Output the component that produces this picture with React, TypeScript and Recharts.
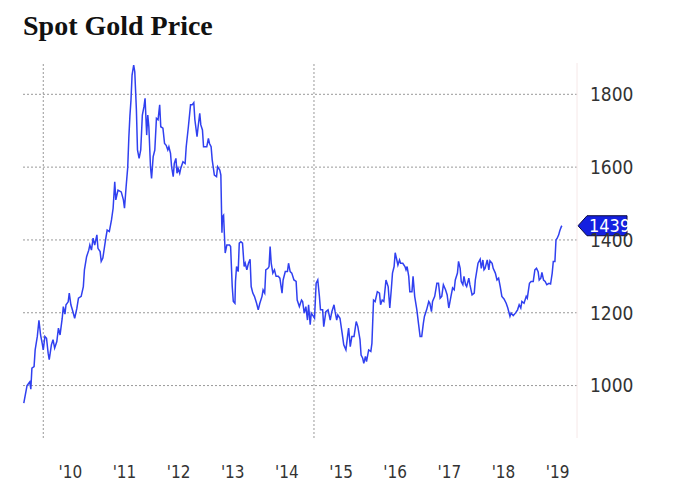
import React from "react";
import { Line, LineChart, ReferenceLine, XAxis, YAxis } from "recharts";

// decimal years
const dates = [
  2009.64, 2009.7, 2009.75, 2009.77, 2009.79, 2009.83, 2009.85, 2009.89, 2009.92, 2009.95, 2009.98,
  2010.0, 2010.03, 2010.06, 2010.09, 2010.11, 2010.15, 2010.18, 2010.21, 2010.25, 2010.28, 2010.31,
  2010.35, 2010.37, 2010.4, 2010.42, 2010.46, 2010.48, 2010.51, 2010.54, 2010.58, 2010.62, 2010.65,
  2010.7, 2010.74, 2010.76, 2010.8, 2010.84, 2010.86, 2010.89, 2010.92, 2010.95, 2010.99,
  2011.01, 2011.05, 2011.07, 2011.1, 2011.15, 2011.18, 2011.22, 2011.26, 2011.29, 2011.32, 2011.34,
  2011.38, 2011.44, 2011.48, 2011.5, 2011.53, 2011.56, 2011.58, 2011.6, 2011.62, 2011.64, 2011.67,
  2011.69, 2011.72, 2011.74, 2011.77, 2011.8, 2011.83, 2011.86, 2011.88, 2011.91, 2011.93, 2011.95, 2011.98,
  2012.0, 2012.03, 2012.06, 2012.09, 2012.12, 2012.15, 2012.17, 2012.21, 2012.24, 2012.27, 2012.3,
  2012.32, 2012.35, 2012.37, 2012.4, 2012.42, 2012.45, 2012.47, 2012.49, 2012.52, 2012.54, 2012.58,
  2012.62, 2012.64, 2012.68, 2012.72, 2012.75, 2012.78, 2012.8, 2012.84, 2012.86, 2012.89, 2012.91,
  2012.94, 2012.96,
  2013.0, 2013.02, 2013.05, 2013.07, 2013.1, 2013.12, 2013.16, 2013.2, 2013.22, 2013.26, 2013.28,
  2013.3, 2013.31, 2013.33, 2013.36, 2013.39, 2013.44, 2013.46, 2013.49, 2013.51, 2013.54, 2013.55,
  2013.57, 2013.6, 2013.62, 2013.65, 2013.68, 2013.71, 2013.73, 2013.76, 2013.79, 2013.82, 2013.84,
  2013.87, 2013.9, 2013.94, 2013.97,
  2014.0, 2014.04, 2014.06, 2014.09, 2014.11, 2014.15, 2014.17, 2014.19, 2014.21, 2014.24, 2014.27,
  2014.3, 2014.34, 2014.37, 2014.41, 2014.43, 2014.47, 2014.51, 2014.53, 2014.56, 2014.59, 2014.63,
  2014.67, 2014.69, 2014.73, 2014.77, 2014.79, 2014.82, 2014.85, 2014.88, 2014.9, 2014.93, 2014.95, 2014.99,
  2015.01, 2015.04, 2015.07, 2015.1, 2015.12, 2015.16, 2015.18, 2015.22, 2015.26, 2015.3, 2015.33,
  2015.37, 2015.39, 2015.42, 2015.44, 2015.48, 2015.52, 2015.55, 2015.59, 2015.62, 2015.64, 2015.67,
  2015.7, 2015.74, 2015.78, 2015.81, 2015.85, 2015.87, 2015.9, 2015.92, 2015.95, 2015.97,
  2016.01, 2016.05, 2016.07, 2016.1, 2016.13, 2016.17, 2016.21, 2016.23, 2016.26, 2016.29, 2016.33,
  2016.37, 2016.4, 2016.43, 2016.45, 2016.48, 2016.5, 2016.53, 2016.55, 2016.58, 2016.6, 2016.64,
  2016.68, 2016.7, 2016.72, 2016.75, 2016.77, 2016.81, 2016.83, 2016.86, 2016.9, 2016.93, 2016.96, 2016.99,
  2017.02, 2017.04, 2017.08, 2017.12, 2017.14, 2017.17, 2017.19, 2017.23, 2017.27, 2017.3, 2017.33,
  2017.36, 2017.39, 2017.43, 2017.46, 2017.49, 2017.53, 2017.56, 2017.59, 2017.61, 2017.65, 2017.67,
  2017.7, 2017.72, 2017.75, 2017.77, 2017.8, 2017.82, 2017.86, 2017.88, 2017.92, 2017.96, 2017.98,
  2018.01, 2018.03, 2018.07, 2018.09, 2018.12, 2018.14, 2018.16, 2018.2, 2018.23, 2018.25, 2018.29,
  2018.31, 2018.35, 2018.38, 2018.41, 2018.44, 2018.47, 2018.51, 2018.55, 2018.58, 2018.62, 2018.64,
  2018.68, 2018.72, 2018.76, 2018.79, 2018.82, 2018.84, 2018.88, 2018.92, 2018.94, 2018.98,
  2019.01, 2019.05, 2019.08, 2019.11, 2019.14, 2019.16, 2019.19, 2019.21, 2019.24, 2019.27, 2019.3,
  2019.34, 2019.37, 2019.4, 2019.42, 2019.45, 2019.47, 2019.49, 2019.52, 2019.54, 2019.57, 2019.58
];

// USD per ounce
const prices = [
  952, 1000, 1010, 990, 1048, 1052, 1098, 1135, 1179, 1139, 1116,
  1098, 1135, 1130, 1089, 1071, 1112, 1126, 1103, 1121, 1158, 1139,
  1185, 1217, 1196, 1222, 1230, 1254, 1222, 1207, 1185, 1212, 1240,
  1245, 1272, 1318, 1354, 1372, 1386, 1372, 1405, 1386, 1414,
  1377, 1368, 1341, 1350, 1400, 1427, 1423, 1455, 1487, 1560, 1510,
  1537, 1532, 1510, 1487, 1546, 1600, 1680, 1740, 1784, 1853, 1880,
  1862, 1757, 1647, 1624, 1647, 1743, 1766, 1789, 1688, 1743, 1711, 1601,
  1569, 1629, 1647, 1734, 1730, 1771, 1711, 1707, 1665, 1660, 1647,
  1656, 1638, 1601, 1574, 1610, 1624, 1583, 1597, 1583, 1597, 1615,
  1610, 1656, 1711, 1771, 1771, 1777, 1730, 1684, 1711, 1748, 1716,
  1702, 1656,
  1656, 1656, 1679, 1665, 1656, 1620, 1578, 1574, 1601, 1592, 1578,
  1420, 1464, 1468, 1364, 1386, 1386, 1382, 1272, 1231, 1226, 1286,
  1327, 1313, 1391, 1395, 1391, 1327, 1336, 1318, 1336, 1347, 1272,
  1254, 1245, 1226, 1208,
  1226, 1245, 1263, 1254, 1318, 1322, 1327, 1382, 1336, 1309, 1318,
  1300, 1300, 1295, 1254, 1290, 1313, 1313, 1336, 1313, 1309, 1290,
  1286, 1235, 1217, 1235, 1231, 1199, 1217, 1180, 1222, 1167, 1199, 1190,
  1185, 1281, 1290, 1245, 1208, 1208, 1162, 1203, 1208, 1180, 1203,
  1222, 1203, 1180, 1194, 1185, 1144, 1112, 1098, 1135, 1158, 1107,
  1135, 1135, 1176, 1162, 1126, 1084, 1075, 1061, 1080, 1066,
  1098, 1094, 1116, 1235, 1231, 1258, 1254, 1222, 1235, 1231, 1290,
  1272, 1213, 1268, 1309, 1327, 1365, 1345, 1331, 1345, 1336, 1336,
  1327, 1318, 1327, 1300, 1258, 1258, 1300, 1245, 1208, 1171, 1135, 1135,
  1171, 1190, 1208, 1231, 1226, 1203, 1231, 1245, 1281, 1281, 1240,
  1245, 1277, 1263, 1249, 1213, 1245, 1268, 1263, 1290, 1309, 1341,
  1322, 1286, 1277, 1300, 1277, 1272, 1295, 1277, 1249, 1254, 1290,
  1318, 1336, 1347, 1322, 1345, 1318, 1322, 1345, 1318, 1343, 1336,
  1322, 1309, 1290, 1295, 1272, 1245, 1238, 1226, 1213, 1190, 1199,
  1192, 1199, 1208, 1222, 1213, 1231, 1226, 1245, 1240, 1281,
  1286, 1286, 1318, 1322, 1313, 1290, 1295, 1311, 1290, 1286, 1277,
  1281, 1279, 1309, 1341, 1341, 1400, 1404, 1414, 1425, 1437, 1439
];

const years = [2010, 2011, 2012, 2013, 2014, 2015, 2016, 2017, 2018, 2019];
const yearLabels = ["'10", "'11", "'12", "'13", "'14", "'15", "'16", "'17", "'18", "'19"];
const priceTicks = [1000, 1200, 1400, 1600, 1800];
const gridYears = [2010, 2015];
const lastPrice = 1439;

const data = dates.map((d, i) => ({ date: d, price: prices[i] }));
const labelTicks = years.map((y) => y + 0.5);

const axisFont = "'Liberation Sans Narrow', 'DejaVu Sans Condensed', sans-serif";
const gridColor = "#999";

function PriceTag(props: any) {
  const { viewBox } = props;
  const x = viewBox.x + viewBox.width;
  const y = viewBox.y;
  return (
    <g>
      <path
        d={`M${x + 1},${y} L${x + 10},${y - 10} L${x + 50},${y - 10} L${x + 50},${y + 10} L${x + 10},${y + 10} Z`}
        fill="#1420e0"
        stroke="#0a0a40"
        strokeWidth={1}
      />
      <text x={x + 12} y={y} dy="0.36em" fill="#fff" fontSize={18} fontFamily={axisFont}>
        {lastPrice}
      </text>
    </g>
  );
}

export default function App() {
  return (
    <div style={{ position: "absolute", left: 0, top: 0, width: 680, height: 488, background: "#fff" }}>
      <div
        style={{
          position: "absolute",
          left: 23,
          top: 12,
          fontFamily: "'Liberation Serif', serif",
          fontWeight: "bold",
          fontSize: 28,
          lineHeight: "28px",
          color: "#111"
        }}
      >
        Spot Gold Price
      </div>
      <LineChart width={680} height={488} data={data} margin={{ top: 63, right: 0, bottom: 0, left: 22 }}>
        <XAxis
          dataKey="date"
          type="number"
          domain={[2009.607, 2019.858]}
          ticks={labelTicks}
          tickFormatter={(v: number) => yearLabels[years.indexOf(Math.floor(v))]}
          axisLine={false}
          tickLine={false}
          height={50}
          tickMargin={22}
          tick={{ fill: "#333", fontSize: 17, fontFamily: axisFont }}
        />
        <YAxis
          orientation="right"
          domain={[856, 1886]}
          ticks={priceTicks}
          width={103}
          axisLine={{ stroke: "#f6e8e8" }}
          tickLine={false}
          tickMargin={7}
          tick={{ fill: "#333", fontSize: 19, fontFamily: axisFont, textAnchor: "start" }}
        />
        {priceTicks.map((p) => (
          <ReferenceLine key={p} y={p} stroke={gridColor} strokeDasharray="2 2" />
        ))}
        {gridYears.map((y) => (
          <ReferenceLine key={y} x={y} stroke={gridColor} strokeDasharray="2 2" />
        ))}
        <Line
          type="linear"
          dataKey="price"
          stroke="#3040f0"
          strokeWidth={1.5}
          dot={false}
          isAnimationActive={false}
        />
        <ReferenceLine y={lastPrice} stroke="none" label={<PriceTag />} />
      </LineChart>
    </div>
  );
}
